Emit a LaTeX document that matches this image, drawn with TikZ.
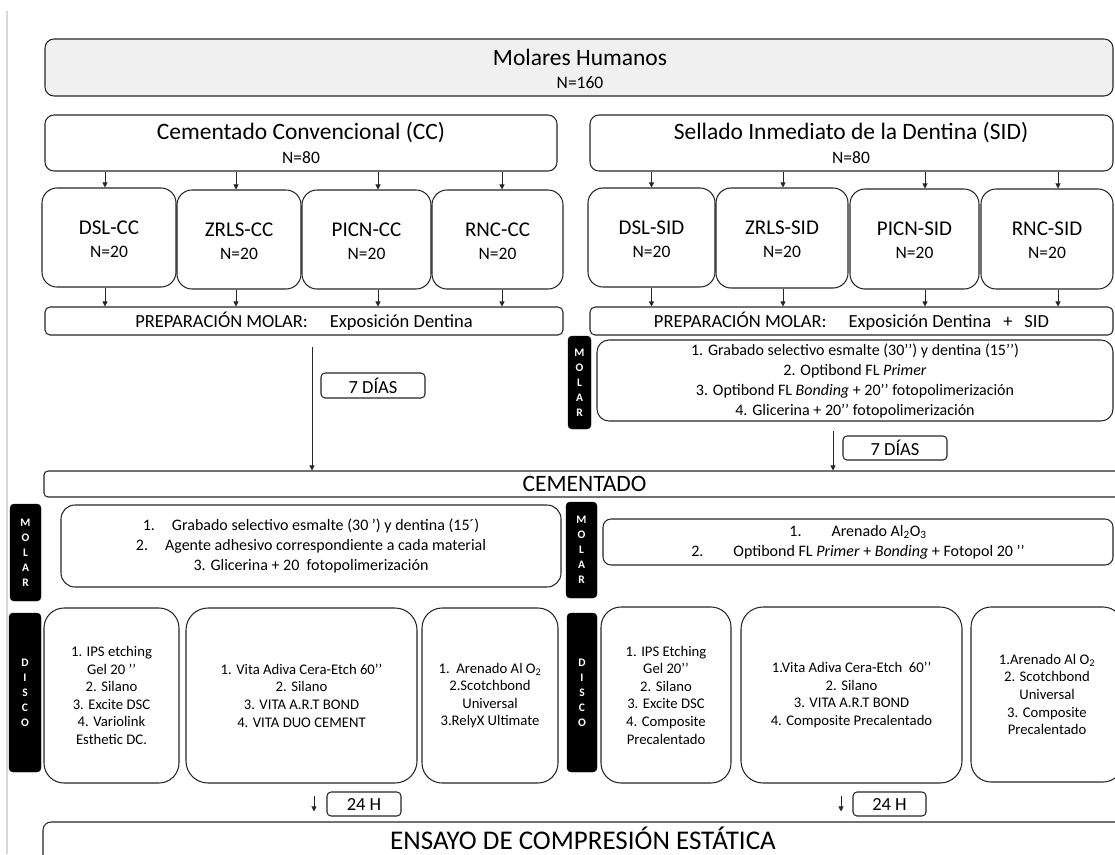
\documentclass[tikz,border=0pt]{standalone}
\usepackage{fontspec}
\setmainfont{Carlito}
\usetikzlibrary{arrows.meta,calc}
\tikzset{
  bx/.style={draw=black!85, line width=1.05pt, fill=white, rounded corners=#1, inner sep=1pt, align=center},
  bx/.default=8pt,
  blk/.style={fill=black, draw=black, rounded corners=4pt, text=white, font=\bfseries\fontsize{11.5}{15}\selectfont, align=center, inner sep=0pt},
  arr/.style={draw=black!85, line width=0.7pt, -{Triangle[length=5pt,width=5pt]}},
  ttl/.style={font=\fontsize{23.5}{28}\selectfont},
  nn/.style={font=\fontsize{17.5}{20}\selectfont},
  sub/.style={font=\fontsize{21}{24}\selectfont},
  prep/.style={font=\fontsize{18.5}{22}\selectfont},
  proc/.style={font=\fontsize{16}{20}\selectfont},
  dtxt/.style={font=\fontsize{14.7}{17.6}\selectfont},
  small/.style={font=\fontsize{18.5}{22}\selectfont},
}
\newcommand{\bx}[7]{\node[#2, minimum width={#5-#3}, minimum height={#6-#4}] (#1) at ({(#3+#5)/2},{(#4+#6)/2}) {#7};}
\begin{document}
\begin{tikzpicture}[x=1pt,y=-1pt]
\useasboundingbox (0,0) rectangle (1115,854);
\draw[gray!30, line width=1.2pt] (7,11) -- (7,854);

% top
\bx{molares}{bx=9pt, fill=gray!12}{45}{39}{1113}{96}{}
\node[ttl] (molt) at (580,57) {Molares Humanos};
\node[nn] (moln) at (580,83) {N=160};

\bx{cc}{bx=9pt}{45}{115}{557}{171}{}
\node[ttl] (cct) at (301,133) {Cementado Convencional (CC)};
\node[nn] (ccn) at (301,158) {N=80};
\bx{sid}{bx=9pt}{590}{115}{1113}{171}{}
\node[ttl] (sidt) at (851,133) {Sellado Inmediato de la Dentina (SID)};
\node[nn] (sidn) at (851,158) {N=80};

% sub groups
\bx{dslcc}{bx=15pt}{42}{188}{176}{287}{}
\bx{zrlscc}{bx=15pt}{177}{190}{301}{289}{}
\bx{picncc}{bx=15pt}{302}{190}{431}{289}{}
\bx{rnccc}{bx=15pt}{432}{190}{563}{289}{}
\bx{dslsid}{bx=15pt}{588}{188}{715}{287}{}
\bx{zrlssid}{bx=15pt}{716}{188}{848}{288}{}
\bx{picnsid}{bx=15pt}{850}{189}{979}{289}{}
\bx{rncsid}{bx=15pt}{981}{189}{1113}{289}{}
\foreach \b/\t in {dslcc/DSL-CC, zrlscc/ZRLS-CC, picncc/PICN-CC, rnccc/RNC-CC, dslsid/DSL-SID, zrlssid/ZRLS-SID, picnsid/PICN-SID, rncsid/RNC-SID}{
  \node[sub] (\b-t) at ($(\b.center)+(0,-10)$) {\t};
  \node[nn] (\b-n) at ($(\b.center)+(0,14)$) {N=20};
}

% arrows group -> sub
\foreach \b/\s in {dslcc/-4, zrlscc/-3, picncc/11.5, rnccc/4.5}{
  \draw[arr] ([xshift=\s pt]\b.north |- cc.south) -- ([xshift=\s pt]\b.north);
}
\foreach \b/\s in {dslsid/0, zrlssid/1, picnsid/10.5, rncsid/11}{
  \draw[arr] ([xshift=\s pt]\b.north |- sid.south) -- ([xshift=\s pt]\b.north);
}

% preparation
\bx{prepcc}{bx=5pt, prep}{45}{307}{563}{335}{PREPARACIÓN MOLAR:\hspace{22pt}Exposición Dentina}
\bx{prepsid}{bx=5pt, prep}{590}{307}{1113}{335}{PREPARACIÓN MOLAR:\hspace{22pt}Exposición Dentina\hspace{12pt}+\hspace{12pt}SID}
\foreach \b/\s in {dslcc/-4, zrlscc/-3, picncc/11.5, rnccc/4.5}{
  \draw[arr] ([xshift=\s pt]\b.south) -- ([xshift=\s pt]\b.south |- prepcc.north);
}
\foreach \b/\s in {dslsid/0, zrlssid/1, picnsid/10.5, rncsid/11}{
  \draw[arr] ([xshift=\s pt]\b.south) -- ([xshift=\s pt]\b.south |- prepsid.north);
}

% SID molar process
\bx{molA}{blk}{568}{336}{591}{429}{M\\O\\L\\A\\R}
\bx{sidproc}{bx=12pt, proc}{597}{340}{1113}{421}{1. Grabado selectivo esmalte (30’’) y dentina (15’’)\\2. Optibond FL \textit{Primer}\\3. Optibond FL \textit{Bonding} + 20’’ fotopolimerización\\4. Glicerina + 20’’ fotopolimerización}

% 7 days
\bx{dias1}{bx=4pt, small}{321}{373}{425}{398}{7 DÍAS}
\bx{dias2}{bx=4pt, small}{843}{436}{947}{460}{7 DÍAS}

% cementado
\bx{cem}{bx=4pt, ttl}{44}{471}{1125}{497}{CEMENTADO}
\draw[arr, shorten <=11pt] ([xshift=8pt]prepcc.south) -- ([xshift=8pt]prepcc.south |- cem.north);
\draw[arr, shorten <=9pt] ([xshift=-22pt]sidproc.south) -- ([xshift=-22pt]sidproc.south |- cem.north);

% molar cementation
\bx{molB}{blk}{10}{504}{41}{601}{M\\O\\L\\A\\R}
\bx{ccproc}{bx=14pt, proc}{61}{505}{561}{587}{1.\hspace{17pt}Grabado selectivo esmalte (30 ’) y dentina (15´)\\2.\hspace{17pt}Agente adhesivo correspondiente a cada material\\3. Glicerina + 20\ \ fotopolimerización}
\bx{molC}{blk}{566}{502}{597}{598}{M\\O\\L\\A\\R}
\bx{arproc}{bx=8pt, proc}{603}{519}{1113}{565}{1.\hspace{30pt}Arenado Al\textsubscript{2}O\textsubscript{3}\\2.\hspace{30pt}Optibond FL \textit{Primer} + \textit{Bonding} + Fotopol 20 ’’}

% disco
\bx{discA}{blk}{9}{613}{41}{772}{D\\I\\S\\C\\O}
\bx{d1}{bx=20pt, dtxt}{44}{608}{179}{783}{1. IPS etching\\Gel 20 ’’\\2. Silano\\3. Excite DSC\\4. Variolink\\Esthetic DC.}
\bx{d2}{bx=22pt, dtxt}{186}{608}{417}{783}{1. Vita Adiva Cera-Etch 60’’\\2. Silano\\3. VITA A.R.T BOND\\4. VITA DUO CEMENT}
\bx{d3}{bx=20pt, dtxt}{422}{608}{558}{783}{1.\ \ Arenado Al O\textsubscript{2}\\2.Scotchbond\\Universal\\3.RelyX Ultimate}
\bx{discB}{blk}{567}{613}{597}{772}{D\\I\\S\\C\\O}
\bx{d4}{bx=20pt, dtxt}{601}{607}{731}{783}{1. IPS Etching\\Gel 20’’\\2. Silano\\3. Excite DSC\\4. Composite\\Precalentado}
\bx{d5}{bx=22pt, dtxt}{741}{607}{962}{783}{1.Vita Adiva Cera-Etch\ \ 60’’\\2. Silano\\3. VITA A.R.T BOND\\4. Composite Precalentado}
\bx{d6}{bx=20pt, dtxt}{971}{607}{1123}{782}{1.Arenado Al O\textsubscript{2}\\2. Scotchbond\\Universal\\3. Composite\\Precalentado}

% 24 h
\bx{h1}{bx=4pt, small}{327}{792}{401}{816}{24 H}
\bx{h2}{bx=4pt, small}{853}{792}{926}{816}{24 H}

% ensayo
\bx{ensayo}{bx=8pt}{43}{822}{1125}{880}{}
\node[font=\fontsize{27}{30}\selectfont] (enst) at (583,838) {ENSAYO DE COMPRESIÓN ESTÁTICA};
\draw[arr, shorten <=12pt, shorten >=10pt] ([xshift=12.5pt]d2.south) -- ([xshift=12.5pt]d2.south |- ensayo.north);
\draw[arr, shorten <=12pt, shorten >=10pt] ([xshift=-10.5pt]d5.south) -- ([xshift=-10.5pt]d5.south |- ensayo.north);
\end{tikzpicture}
\end{document}
